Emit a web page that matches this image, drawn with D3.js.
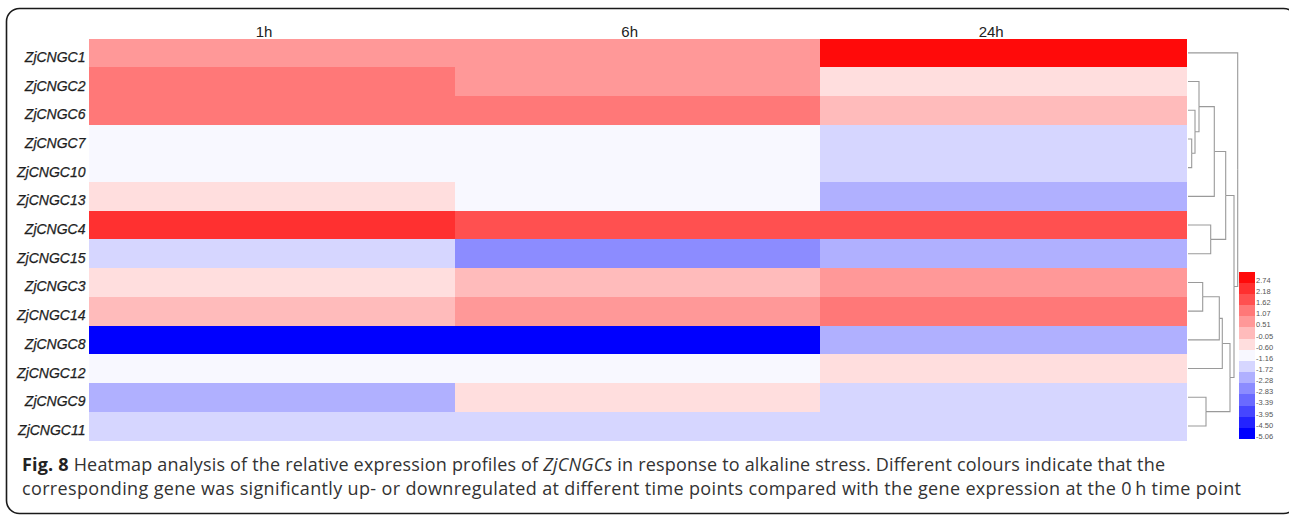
<!DOCTYPE html>
<html>
<head>
<meta charset="utf-8">
<script src="https://cdn.jsdelivr.net/npm/d3@7"></script>
<style>
  html, body { margin: 0; padding: 0; background: #fff; }
  svg { display: block; }
</style>
</head>
<body>
<svg id="chart" width="1289" height="515"></svg>
<script>
// ---------- data ----------
const genes = ["ZjCNGC1","ZjCNGC2","ZjCNGC6","ZjCNGC7","ZjCNGC10","ZjCNGC13","ZjCNGC4",
               "ZjCNGC15","ZjCNGC3","ZjCNGC14","ZjCNGC8","ZjCNGC12","ZjCNGC9","ZjCNGC11"];
const times = ["1h", "6h", "24h"];
// relative expression (log2 fold change vs 0 h), rows follow `genes`
const values1h  = [ 0.55,  1.10,  1.05, -1.15, -1.13, -0.58,  2.20, -1.70, -0.55, -0.06, -5.06, -1.12, -2.27, -1.74];
const values6h  = [ 0.50,  0.48,  1.12, -1.18, -1.20, -1.16,  1.60, -2.85, -0.02,  0.55, -5.00, -1.17, -0.60, -1.68];
const values24h = [ 2.74, -0.62, -0.08, -1.70, -1.75, -2.30,  1.65, -2.25,  0.52,  1.05, -2.26, -0.63, -1.72, -1.70];
const legendLabels = ["2.74","2.18","1.62","1.07","0.51","-0.05","-0.60","-1.16","-1.72","-2.28","-2.83","-3.39","-3.95","-4.50","-5.06"];
// dendrogram (row clustering): merge heights
const tree = {h: 9.94, children: [
  {name: "ZjCNGC1"},
  {h: 9.2, children: [
    {h: 7.54, children: [
      {h: 5.26, children: [
        {h: 2.2, children: [
          {name: "ZjCNGC2"},
          {h: 1.4, children: [
            {name: "ZjCNGC6"},
            {h: 0.74, children: [{name: "ZjCNGC7"}, {name: "ZjCNGC10"}]}
          ]}
        ]},
        {name: "ZjCNGC13"}
      ]},
      {h: 4.54, children: [{name: "ZjCNGC4"}, {name: "ZjCNGC15"}]}
    ]},
    {h: 8.4, children: [
      {h: 6.86, children: [
        {h: 6.26, children: [
          {h: 2.94, children: [{name: "ZjCNGC3"}, {name: "ZjCNGC14"}]},
          {name: "ZjCNGC8"}
        ]},
        {name: "ZjCNGC12"}
      ]},
      {h: 3.6, children: [{name: "ZjCNGC9"}, {name: "ZjCNGC11"}]}
    ]}
  ]}
]};

// ---------- palette ----------
const palette = ["#ff0a0a","#ff3030","#ff5050","#ff7878","#ff9898","#ffbbbb","#ffdede",
                 "#f8f8ff","#d6d6ff","#b0b0ff","#8c8cff","#6a6aff","#4646ff","#2323ff","#0000ff"];

const svg = d3.select("#chart");

// frame
svg.append("rect")
  .attr("x", 6.5).attr("y", 8.5).attr("width", 1290).attr("height", 505)
  .attr("rx", 13).attr("ry", 13)
  .attr("fill", "none").attr("stroke", "#1a1a1a").attr("stroke-width", 1.6);

// scales
const x = d3.scaleBand().domain(times).range([89, 1186]);
const y = d3.scaleBand().domain(genes).range([38.5, 440.3]);
const nums = legendLabels.map(Number);
const step = (nums[0] - nums[nums.length - 1]) / (nums.length - 1);
const color = d3.scaleQuantize()
  .domain([nums[nums.length - 1] - step / 2, nums[0] + step / 2])
  .range(palette.slice().reverse());

// cells
const series = [values1h, values6h, values24h];
const cells = [];
times.forEach((t, j) => genes.forEach((g, i) => cells.push({t, g, v: series[j][i]})));
svg.append("g").selectAll("rect").data(cells).join("rect")
  .attr("x", d => x(d.t))
  .attr("y", d => y(d.g))
  .attr("width", x.bandwidth() + 0.5)
  .attr("height", y.bandwidth() + 0.5)
  .attr("fill", d => color(d.v))
  .attr("shape-rendering", "crispEdges");

// column labels (right edge at column centre)
svg.append("g").selectAll("text").data(times).join("text")
  .attr("x", d => x(d) + x.bandwidth() / 2 + 0.5)
  .attr("y", 36.5)
  .attr("text-anchor", "end")
  .attr("font-family", "Liberation Sans, Arial, sans-serif")
  .attr("font-size", 15)
  .attr("fill", "#222")
  .text(d => d);

// row labels
svg.append("g").selectAll("text").data(genes).join("text")
  .attr("x", 85.5)
  .attr("y", d => y(d) + y.bandwidth() / 2 + 9)
  .attr("text-anchor", "end")
  .attr("font-family", "Liberation Sans, Arial, sans-serif")
  .attr("font-style", "italic")
  .attr("font-size", 14)
  .attr("fill", "#1e1e1e")
  .attr("stroke", "#1e1e1e")
  .attr("stroke-width", 0.25)
  .text(d => d);

// dendrogram
const root = d3.hierarchy(tree);
const hx = d3.scaleLinear().domain([0, 9.94]).range([1188, 1237.7]);
root.eachAfter(n => {
  if (!n.children) { n.py = y(n.data.name) + y.bandwidth() / 2; n.px = hx(0); }
  else {
    n.py = (n.children[0].py + n.children[n.children.length - 1].py) / 2;
    n.px = hx(n.data.h);
  }
});
const links = [];
root.each(n => { if (n.children) n.children.forEach(c => links.push({p: n, c})); });
svg.append("g").selectAll("path").data(links).join("path")
  .attr("d", d => `M${d.c.px},${d.c.py}H${d.p.px}V${d.p.py}`)
  .attr("fill", "none")
  .attr("stroke", "#9a9a9a")
  .attr("stroke-width", 1.1);

// legend
const ly = d3.scaleBand().domain(legendLabels).range([271.7, 439]);
const lg = svg.append("g");
lg.selectAll("rect").data(legendLabels).join("rect")
  .attr("x", 1239).attr("y", d => ly(d))
  .attr("width", 16).attr("height", ly.bandwidth() + 0.3)
  .attr("fill", d => color(+d))
  .attr("shape-rendering", "crispEdges");
lg.selectAll("text").data(legendLabels).join("text")
  .attr("x", 1256)
  .attr("y", d => ly(d) + ly.bandwidth() / 2 + 5.5)
  .attr("font-family", "Liberation Sans, Arial, sans-serif")
  .attr("font-size", 7.5)
  .attr("fill", "#555")
  .text(d => d);

// caption
const cap = svg.append("g")
  .attr("font-family", "Open Sans, Noto Sans, sans-serif")
  .attr("font-size", 18)
  .attr("fill", "#333");
const l1 = cap.append("text").attr("x", 22).attr("y", 471)
  .attr("textLength", 1143).attr("lengthAdjust", "spacing");
l1.append("tspan").attr("font-weight", "bold").attr("fill", "#222").text("Fig. 8");
l1.append("tspan").text(" Heatmap analysis of the relative expression profiles of ");
l1.append("tspan").attr("font-style", "italic").text("ZjCNGCs");
l1.append("tspan").text(" in response to alkaline stress. Different colours indicate that the");
cap.append("text").attr("x", 22).attr("y", 495)
  .attr("textLength", 1219).attr("lengthAdjust", "spacing")
  .text("corresponding gene was significantly up- or downregulated at different time points compared with the gene expression at the 0\u2009h time point");
</script>
</body>
</html>
